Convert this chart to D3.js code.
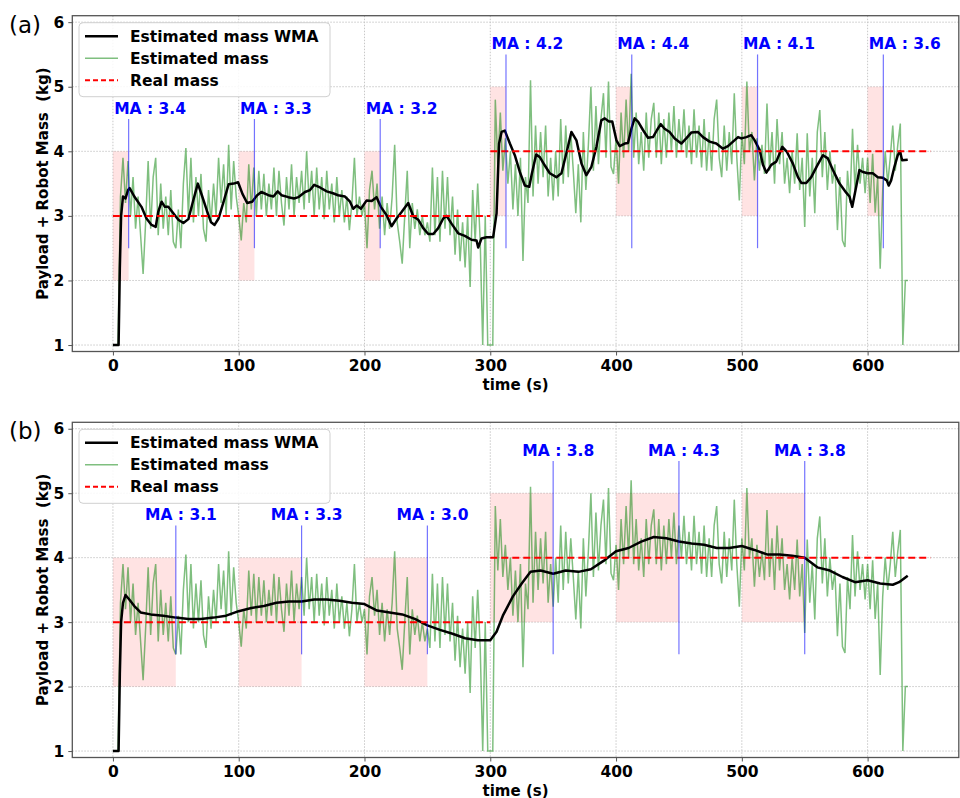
<!DOCTYPE html>
<html>
<head>
<meta charset="utf-8">
<script src="https://cdn.jsdelivr.net/npm/d3@7"></script>
<style>
  body { margin: 0; background: #fff; }
  text { font-family: "DejaVu Sans", sans-serif; }
</style>
</head>
<body>
<svg id="chart" width="960" height="798"></svg>
<script>
// raw estimate, one sample every 2 s starting at t = 0
const sampleStep = 2;
const estimatedMass = [
  1, 1, 1, 3.3, 3.9, 3.2, 3.85, 3.0, 3.6, 2.8,
  3.3, 2.7, 2.1, 2.9, 3.85, 2.8, 3.6, 3.9, 2.7, 3.5,
  2.8, 3.3, 2.7, 3.4, 2.6, 2.5, 3.1, 2.5, 3.5, 4.05,
  3.0, 3.9, 2.9, 3.6, 3.0, 3.65, 2.8, 2.6, 3.4, 2.9,
  3.5, 3.0, 3.9, 3.2, 3.8, 3.0, 4.1, 3.1, 3.85, 3.3,
  3.0, 2.62, 3.2, 2.9, 3.8, 3.1, 3.75, 3.0, 3.7, 3.1,
  3.65, 3.0, 3.5, 3.1, 3.75, 3.0, 3.7, 3.2, 2.85, 3.6,
  3.1, 3.8, 3.0, 3.6, 3.2, 3.7, 3.1, 4.0, 3.2, 3.7,
  3.0, 3.75, 3.1, 3.6, 2.95, 3.7, 3.1, 3.5, 2.9, 3.6,
  3.0, 3.4, 2.9, 3.3, 2.78, 3.2, 3.9, 3.0, 3.3, 3.0,
  3.2, 2.5, 3.4, 3.7, 3.1, 3.5, 2.8, 3.3, 2.7, 3.2,
  2.8, 3.3, 4.1, 2.9, 2.6, 2.26, 3.0, 3.7, 2.5, 3.2,
  2.8, 3.1, 2.7, 3.0, 2.7, 2.9, 2.6, 3.75, 2.7, 3.6,
  2.6, 3.7, 2.8, 3.6, 2.7, 3.3, 2.4, 3.1, 2.3, 2.9,
  2.2, 3.0, 1.9, 3.4, 2.6, 3.5, 2.6, 1.0, 3.0, 1.0,
  1.0, 1.0, 4.8, 3.8, 4.6, 3.7, 4.2, 3.5, 4.0, 3.1,
  3.8, 3.0, 3.9, 2.3, 3.6, 3.2, 5.1, 3.3, 4.4, 3.5,
  4.3, 3.6, 4.4, 3.3, 3.9, 3.24, 4.0, 3.3, 4.5, 3.5,
  4.4, 3.6, 4.3, 3.7, 3.04, 3.8, 2.9, 4.3, 3.4, 4.1,
  5.0, 3.7, 4.7, 3.8, 4.5, 4.9, 3.9, 5.08, 3.76, 3.65,
  4.2, 3.5, 4.6, 3.9, 4.8, 4.0, 5.2, 3.9, 4.6, 3.8,
  4.3, 3.7, 4.6, 3.9, 4.5, 4.75, 3.9, 4.6, 3.8, 4.5,
  3.9, 4.6, 4.0, 4.7, 3.9, 4.5, 4.0, 4.65, 3.9, 4.4,
  3.8, 4.65, 3.9, 4.4, 3.75, 4.5, 3.7, 4.3, 3.7, 4.5,
  4.8, 3.9, 3.6, 4.4, 3.7, 4.3, 3.8, 4.9, 3.9, 3.24,
  4.3, 3.8, 5.08, 4.0, 4.3, 3.55, 4.2, 3.7, 4.1, 3.65,
  4.74, 3.7, 4.3, 3.5, 4.5, 3.8, 4.3, 3.5, 3.9, 3.35,
  4.0, 3.5, 4.28, 3.4, 3.9, 2.83, 4.28, 3.3, 3.9, 3.04,
  4.3, 4.64, 3.6, 4.3, 3.4, 4.0, 3.5, 3.8, 2.78, 3.6,
  2.62, 2.52, 3.7, 3.2, 4.35, 3.4, 4.1, 3.5, 3.9, 3.35,
  3.9, 3.2, 3.96, 3.05, 3.6, 2.18, 3.4, 4.0, 3.5, 3.9,
  4.4, 3.7, 4.1, 4.43, 1.0, 2.0, 2.0
];

// weighted moving average, panel (a): short window
const wmaTimeA = [0, 4.5, 5.5, 6.5, 8, 10, 12, 13.3, 17, 22.7, 26.7, 30.7, 34, 36, 38.7, 41.3, 44, 48, 52, 56,
  60, 64, 67.5, 70.7, 74.7, 78, 80.8, 84, 88, 92, 96, 99.5, 103, 106.7, 110.7, 114.7, 118, 123.6, 127.6, 131,
  134, 139.5, 144, 147.4, 152.7, 156.7, 160, 164.6, 170, 175, 179, 184.5, 188.5, 191, 193.8, 197.2, 201.7, 205.7, 209.6, 213,
  217.6, 221.5, 225.5, 229.5, 234.8, 238.8, 242.8, 246.7, 250.7, 254.7, 258.6, 262.6, 265.3, 269.2, 274.5, 279.8, 285.1, 289.1, 290.4, 293,
  297, 302.3, 305, 307, 309, 311.6, 315.6, 319.5, 323.5, 327.5, 331, 333, 336.5, 339.4, 343.4, 347.3, 352.6, 356.6, 360.5, 364.5,
  368.5, 372.5, 376.4, 380.4, 384.4, 388.3, 391, 394.4, 397, 400.3, 402.9, 406.9, 409.5, 412.2, 414.8, 417.5, 421.4, 425.4, 429.4, 432.6,
  435.5, 438.6, 442.6, 446.6, 451.9, 455.8, 459.8, 465, 469.1, 474.4, 479.7, 485, 489, 493, 497, 499.6, 503.6, 507.5, 510.2, 514.2,
  516.8, 519.5, 523.4, 527.4, 532.2, 535.9, 540.6, 544.6, 547.3, 551.2, 555.2, 559.7, 564.5, 568.4, 572.4, 577.7, 583, 585.6, 587.8, 590.4,
  593.5, 596.2, 600.2, 604.1, 608.1, 612.1, 615.2, 616.8, 618.7, 621.3, 624, 625.8, 627.4, 631.9];
const wmaA = [1, 1, 2.2, 3.0, 3.3, 3.27, 3.4, 3.43, 3.3, 3.14, 2.96, 2.86, 2.83, 3.06, 3.22, 3.14, 3.14, 3.04, 2.94, 2.89,
  2.95, 3.25, 3.5, 3.32, 3.08, 2.9, 2.86, 2.96, 3.22, 3.49, 3.5, 3.52, 3.34, 3.2, 3.22, 3.32, 3.37, 3.32, 3.3, 3.38,
  3.32, 3.29, 3.27, 3.29, 3.37, 3.4, 3.48, 3.44, 3.38, 3.35, 3.32, 3.3, 3.22, 3.11, 3.16, 3.11, 3.24, 3.23, 3.29, 3.14,
  3.01, 2.84, 2.96, 3.06, 3.2, 2.99, 2.94, 2.81, 2.72, 2.72, 2.81, 2.96, 3.0, 2.88, 2.73, 2.69, 2.63, 2.62, 2.51, 2.65,
  2.67, 2.67, 3.04, 4.12, 4.3, 4.32, 4.12, 3.94, 3.68, 3.47, 3.45, 3.65, 3.95, 3.91, 3.78, 3.66, 3.6, 3.66, 3.97, 4.3,
  4.17, 3.81, 3.63, 3.76, 4.07, 4.48, 4.51, 4.46, 4.46, 4.17, 4.08, 4.12, 4.13, 4.35, 4.51, 4.46, 4.33, 4.21, 4.22, 4.33,
  4.42, 4.35, 4.3, 4.2, 4.12, 4.2, 4.29, 4.3, 4.22, 4.15, 4.12, 4.04, 4.08, 4.15, 4.22, 4.2, 4.22, 4.25, 4.17, 4.02,
  3.79, 3.67, 3.79, 3.84, 4.07, 3.99, 3.81, 3.6, 3.51, 3.51, 3.6, 3.77, 3.94, 3.89, 3.71, 3.5, 3.36, 3.3, 3.14, 3.4,
  3.71, 3.68, 3.66, 3.66, 3.6, 3.59, 3.55, 3.47, 3.55, 3.76, 3.94, 4.0, 3.86, 3.87];

// weighted moving average, panel (b): long window
const wmaTimeB = [0, 4.5, 5.5, 6.5, 8, 10, 13, 17, 22, 30, 40, 50, 60, 70, 80, 90, 100, 110, 120, 130,
  140, 150, 160, 170, 180, 190, 200, 210, 220, 230, 240, 250, 260, 270, 280, 290, 300, 305, 310, 318,
  325, 332, 340, 350, 360, 370, 380, 390, 400, 410, 420, 430, 440, 450, 460, 470, 480, 490, 500, 510,
  520, 530, 540, 550, 560, 570, 580, 590, 600, 610, 620, 625, 631.9];
const wmaB = [1, 1, 2.2, 3.0, 3.3, 3.42, 3.35, 3.25, 3.15, 3.12, 3.1, 3.07, 3.05, 3.05, 3.07, 3.1, 3.17, 3.22, 3.25, 3.3,
  3.32, 3.32, 3.35, 3.35, 3.33, 3.3, 3.28, 3.18, 3.15, 3.12, 3.05, 2.95, 2.88, 2.82, 2.75, 2.72, 2.72, 2.85, 3.1, 3.4,
  3.6, 3.78, 3.8, 3.75, 3.8, 3.78, 3.82, 3.95, 4.1, 4.15, 4.25, 4.32, 4.3, 4.25, 4.22, 4.2, 4.15, 4.15, 4.18, 4.12,
  4.05, 4.05, 4.03, 4.0, 3.85, 3.8, 3.7, 3.62, 3.65, 3.6, 3.58, 3.62, 3.72];

// real mass steps
const realStart = [0, 300];
const realEnd = [300, 650];
const realMass = [3, 4];

// averaging windows and their results
const winStartA = [0, 100, 200, 300, 400, 500, 600];
const winLenA = 12.5;
const maA = [3.4, 3.3, 3.2, 4.2, 4.4, 4.1, 3.6];
const winStartB = [0, 100, 200, 300, 400, 500];
const winLenB = 50;
const maB = [3.1, 3.3, 3.0, 3.8, 4.3, 3.8];

const xTicks = [0, 100, 200, 300, 400, 500, 600];
const yTicks = [1, 2, 3, 4, 5, 6];
const legendLabels = ["Estimated mass WMA", "Estimated mass", "Real mass"];

const svg = d3.select("#chart");
const x = d3.scaleLinear().domain([-32.3, 672.5]).range([72.3, 958.8]);

const estPoints = estimatedMass.map((v, i) => [i * sampleStep, v]);

function drawPanel(top, bottom, tag, wmaTime, wma, winStart, winLen, ma, labelOffset) {
  const y = d3.scaleLinear().domain([0.9, 6.1]).range([bottom, top]);
  const g = svg.append("g");
  const segs = realStart.map((s, i) => ({ s, e: realEnd[i], m: realMass[i] }));
  const massAt = t => t < 300 ? realMass[0] : realMass[1];

  // grid
  g.append("g").selectAll("line").data(xTicks).join("line")
    .attr("x1", d => x(d)).attr("x2", d => x(d))
    .attr("y1", top).attr("y2", bottom)
    .attr("stroke", "#c8c8c8").attr("stroke-dasharray", "1.5,1.5");
  g.append("g").selectAll("line").data(yTicks).join("line")
    .attr("y1", d => y(d)).attr("y2", d => y(d))
    .attr("x1", x.range()[0]).attr("x2", x.range()[1])
    .attr("stroke", "#c8c8c8").attr("stroke-dasharray", "1.5,1.5");

  // pink windows
  g.append("g").selectAll("rect").data(winStart).join("rect")
    .attr("x", d => x(d)).attr("width", x(winLen) - x(0))
    .attr("y", d => y(massAt(d) + 1)).attr("height", d => y(massAt(d) - 1) - y(massAt(d) + 1))
    .attr("fill", "#ff0000").attr("fill-opacity", 0.11);

  const line = d3.line().x(d => x(d[0])).y(d => y(d[1]));

  g.append("path").datum(estPoints)
    .attr("d", line).attr("fill", "none")
    .attr("stroke", "#008000").attr("stroke-opacity", 0.5).attr("stroke-width", 1.5);

  g.append("path").datum(wmaTime.map((t, i) => [t, wma[i]]))
    .attr("d", line).attr("fill", "none")
    .attr("stroke", "#000").attr("stroke-width", 2.5).attr("stroke-linejoin", "round");

  g.append("g").selectAll("line").data(segs).join("line")
    .attr("x1", d => x(d.s)).attr("x2", d => x(d.e))
    .attr("y1", d => y(d.m)).attr("y2", d => y(d.m))
    .attr("stroke", "red").attr("stroke-width", 2).attr("stroke-dasharray", "7,4");

  // MA markers
  g.append("g").selectAll("line").data(winStart).join("line")
    .attr("x1", d => x(d + winLen)).attr("x2", d => x(d + winLen))
    .attr("y1", y(2.5)).attr("y2", d => y(massAt(d) + 1.5))
    .attr("stroke", "blue").attr("stroke-opacity", 0.55).attr("stroke-width", 1.2);
  g.append("g").selectAll("text").data(winStart).join("text")
    .attr("x", d => x(d + labelOffset)).attr("y", d => y(massAt(d) + 1.5) - 5)
    .attr("fill", "blue").attr("font-weight", "bold").attr("font-size", 15.5)
    .text((d, i) => "MA : " + ma[i].toFixed(1));

  // frame and axes
  g.append("rect").attr("x", x.range()[0]).attr("y", top)
    .attr("width", x.range()[1] - x.range()[0]).attr("height", bottom - top)
    .attr("fill", "none").attr("stroke", "#555").attr("stroke-width", 1.3);

  const xa = g.append("g").attr("transform", `translate(0,${bottom})`)
    .call(d3.axisBottom(x).tickValues(xTicks).tickSize(4).tickSizeOuter(0).tickPadding(4));
  const ya = g.append("g").attr("transform", `translate(${x.range()[0]},0)`)
    .call(d3.axisLeft(y).tickValues(yTicks).tickSize(4).tickSizeOuter(0).tickPadding(4).tickFormat(d3.format("d")));
  [xa, ya].forEach(a => {
    a.select(".domain").remove();
    a.selectAll("line").attr("stroke", "#555");
    a.selectAll("text").attr("font-size", 15.5).attr("font-weight", "bold")
      .attr("font-family", "DejaVu Sans").attr("fill", "#000");
  });

  g.append("text").attr("x", (x.range()[0] + x.range()[1]) / 2).attr("y", bottom + 38)
    .attr("text-anchor", "middle").attr("font-weight", "bold").attr("font-size", 15)
    .text("time (s)");
  g.append("text")
    .attr("transform", `translate(48,${(top + bottom) / 2}) rotate(-90)`)
    .attr("text-anchor", "middle").attr("font-weight", "bold").attr("font-size", 15)
    .style("white-space", "pre")
    .text("Payload + Robot Mass  (kg)");
  g.append("text").attr("x", 9).attr("y", top + 17)
    .attr("font-family", "Liberation Sans, Arial, sans-serif").attr("font-size", 23)
    .text(tag);

  // legend
  const lg = g.append("g").attr("transform", `translate(79,${top + 7})`);
  lg.append("rect").attr("width", 251).attr("height", 74).attr("rx", 4)
    .attr("fill", "#fff").attr("fill-opacity", 0.85).attr("stroke", "#d0d0d0");
  const styles = [
    { c: "#000", w: 2.5, o: 1, dash: null },
    { c: "#008000", w: 1.5, o: 0.5, dash: null },
    { c: "red", w: 2, o: 1, dash: "5,3" }
  ];
  legendLabels.forEach((lab, i) => {
    const cy = 13.5 + i * 22;
    lg.append("line").attr("x1", 6).attr("x2", 39).attr("y1", cy).attr("y2", cy)
      .attr("stroke", styles[i].c).attr("stroke-width", styles[i].w)
      .attr("stroke-opacity", styles[i].o).attr("stroke-dasharray", styles[i].dash);
    lg.append("text").attr("x", 51).attr("y", cy + 5.5)
      .attr("font-weight", "bold").attr("font-size", 15.5).text(lab);
  });
}

drawPanel(15.7, 351.5, "(a)", wmaTimeA, wmaA, winStartA, winLenA, maA, 1);
drawPanel(422.3, 757.5, "(b)", wmaTimeB, wmaB, winStartB, winLenB, maB, 25.5);
</script>
</body>
</html>
